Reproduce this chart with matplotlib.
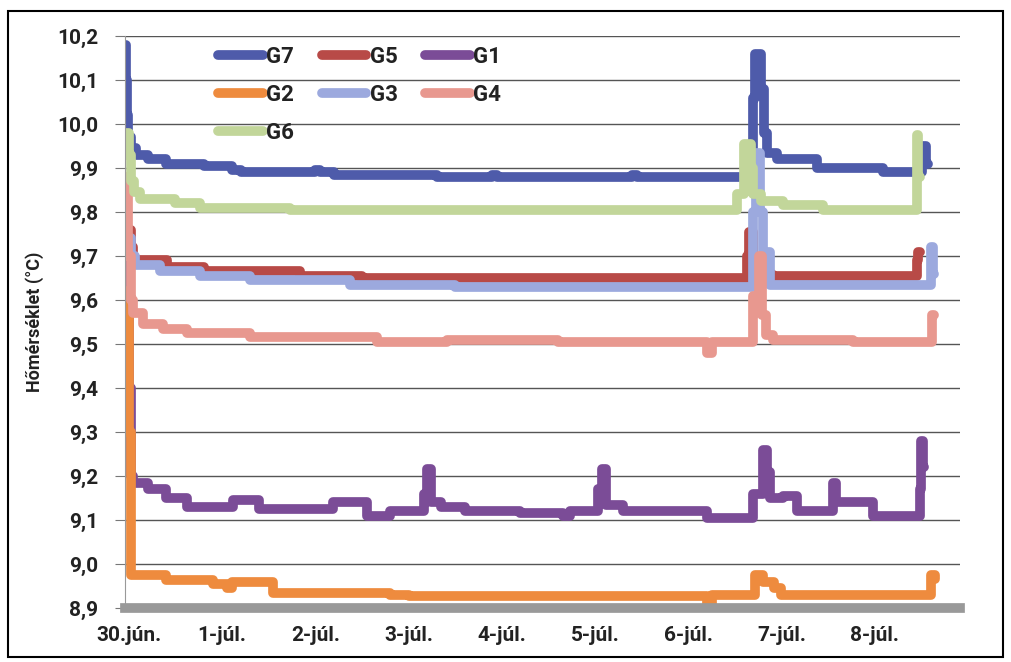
import matplotlib.pyplot as plt
from matplotlib.patches import Rectangle

plt.rcParams['font.family'] = ['Roboto', 'DejaVu Sans']

# x = napok 30.jún. 0:00-tól
day_labels = ['30.jún.', '1-júl.', '2-júl.', '3-júl.', '4-júl.', '5-júl.', '6-júl.', '7-júl.', '8-júl.']

g7_t = [-0.043, -0.035, -0.025, -0.01, 0.02, 0.08, 0.20, 0.40, 0.80, 1.10, 1.20, 2.00, 2.05,
        2.20, 3.30, 3.90, 3.95, 5.40, 5.45, 6.695, 6.72, 6.78, 6.81, 6.85, 6.95, 7.38, 8.09,
        8.51, 8.55, 8.573]
g7_v = [10.18, 10.10, 10.02, 9.97, 9.945, 9.93, 9.92, 9.91, 9.905, 9.895, 9.89, 9.895, 9.89,
        9.885, 9.88, 9.885, 9.88, 9.885, 9.88, 10.06, 10.16, 10.08, 9.98, 9.935, 9.92, 9.90, 9.89,
        9.95, 9.91, 9.91]

g5_t = [0.0, 0.02, 0.04, 0.41, 0.80, 1.84, 2.50, 6.63, 6.65, 6.70, 6.90, 8.455, 8.47, 8.49]
g5_v = [9.76, 9.72, 9.69, 9.675, 9.665, 9.655, 9.65, 9.70, 9.755, 9.66, 9.655, 9.69, 9.71, 9.71]

g1_t = [-0.02, 0.0, 0.02, 0.04, 0.20, 0.40, 0.62, 1.12, 1.40, 2.19, 2.55, 2.80, 3.17, 3.20,
        3.24, 3.35, 3.60, 4.20, 4.66, 4.73, 5.03, 5.07, 5.12, 5.30, 6.20, 6.70, 6.80, 6.84,
        6.88, 7.02, 7.17, 7.55, 7.59, 7.98, 8.49, 8.50, 8.52, 8.53]
g1_v = [9.72, 9.40, 9.20, 9.185, 9.17, 9.15, 9.13, 9.145, 9.125, 9.14, 9.11, 9.12, 9.16, 9.215,
        9.14, 9.13, 9.12, 9.115, 9.11, 9.12, 9.17, 9.215, 9.135, 9.12, 9.105, 9.16, 9.26, 9.21,
        9.15, 9.155, 9.12, 9.185, 9.14, 9.11, 9.17, 9.28, 9.22, 9.22]

g2_t = [-0.02, 0.0, 0.02, 0.40, 0.90, 1.05, 1.10, 1.55, 2.80, 3.00, 6.20, 6.25, 6.72, 6.80,
        6.92, 7.00, 8.60, 8.65]
g2_v = [9.62, 9.30, 8.975, 8.963, 8.955, 8.945, 8.96, 8.935, 8.93, 8.928, 8.91, 8.93, 8.975,
        8.96, 8.945, 8.93, 8.975, 8.965]

g3_t = [-0.01, 0.02, 0.06, 0.33, 0.76, 1.30, 2.37, 3.50, 6.69, 6.73, 6.77, 6.80, 6.88, 8.60,
        8.63, 8.64]
g3_v = [9.74, 9.70, 9.68, 9.665, 9.655, 9.645, 9.635, 9.63, 9.80, 9.935, 9.80, 9.71, 9.635,
        9.72, 9.66, 9.66]

g4_t = [-0.03, -0.01, 0.02, 0.04, 0.15, 0.36, 0.62, 1.30, 2.66, 3.41, 4.60, 6.20, 6.25, 6.70,
        6.76, 6.79, 6.83, 6.91, 7.77, 8.61, 8.64]
g4_v = [9.88, 9.70, 9.60, 9.57, 9.545, 9.535, 9.525, 9.515, 9.505, 9.51, 9.505, 9.48, 9.505,
        9.61, 9.70, 9.565, 9.52, 9.51, 9.505, 9.565, 9.565]

g6_t = [-0.03, 0.0, 0.02, 0.05, 0.12, 0.49, 0.76, 1.73, 6.52, 6.60, 6.67, 6.70, 6.78, 7.02,
        7.45, 8.45, 8.47, 8.49]
g6_v = [9.98, 9.93, 9.87, 9.845, 9.83, 9.82, 9.81, 9.805, 9.84, 9.955, 9.90, 9.84, 9.825, 9.815,
        9.805, 9.975, 9.88, 9.88]

series = [
    ('G7', g7_t, g7_v, '#4E5BAA'),
    ('G5', g5_t, g5_v, '#B84A47'),
    ('G1', g1_t, g1_v, '#7B4C97'),
    ('G2', g2_t, g2_v, '#EE8B3E'),
    ('G3', g3_t, g3_v, '#9CA9DE'),
    ('G4', g4_t, g4_v, '#E8988F'),
    ('G6', g6_t, g6_v, '#C2D69A'),
]

fig = plt.figure(figsize=(10.11, 6.62), dpi=100)
ax = fig.add_axes([0.1236, 0.0816, 0.826, 0.864])

lines = {}
for name, t, v, c in series:
    ln, = ax.plot(t, v, drawstyle='steps-post', color=c, lw=7,
                  solid_joinstyle='round', solid_capstyle='round', label=name)
    lines[name] = ln

ax.set_xlim(-0.043, 8.916)
ax.set_ylim(8.9, 10.2)
ax.set_yticks([8.9 + 0.1 * i for i in range(14)])
ax.set_yticklabels([('%.1f' % (8.9 + 0.1 * i)).replace('.', ',') for i in range(14)],
                   fontsize=15, fontweight='bold', color='#222222')
ax.set_xticks(range(len(day_labels)))
ax.set_xticklabels(day_labels, fontsize=15, fontweight='bold', color='#222222')
ax.tick_params(axis='x', length=0, pad=13)
ax.tick_params(axis='y', length=7, color='#777777', pad=12)
ax.grid(axis='y', color='#555555', lw=1.0)
ax.set_axisbelow(True)
for s in ['top', 'right']:
    ax.spines[s].set_visible(False)
ax.spines['left'].set_color('#999999')
ax.spines['bottom'].set_color('#999999')
ax.spines['bottom'].set_linewidth(7)
ax.set_ylabel('Hőmérséklet (°C)', fontsize=13, fontweight='bold', labelpad=10, color='#222222')

order = ['G7', 'G2', 'G6', 'G5', 'G3', 'G1', 'G4']
ax.legend([lines[n] for n in order], order, ncol=3, loc='upper left',
          bbox_to_anchor=(0.088, 1.018), frameon=False,
          prop={'size': 16, 'weight': 'bold'}, labelcolor='#222222',
          handlelength=2.0, handletextpad=0.15, columnspacing=1.25, labelspacing=0.72)

fig.patches.append(Rectangle((0.008, 0.008), 0.984, 0.975, transform=fig.transFigure,
                             fill=False, edgecolor='black', lw=1.5))

fig.savefig('out.png', dpi=100)
